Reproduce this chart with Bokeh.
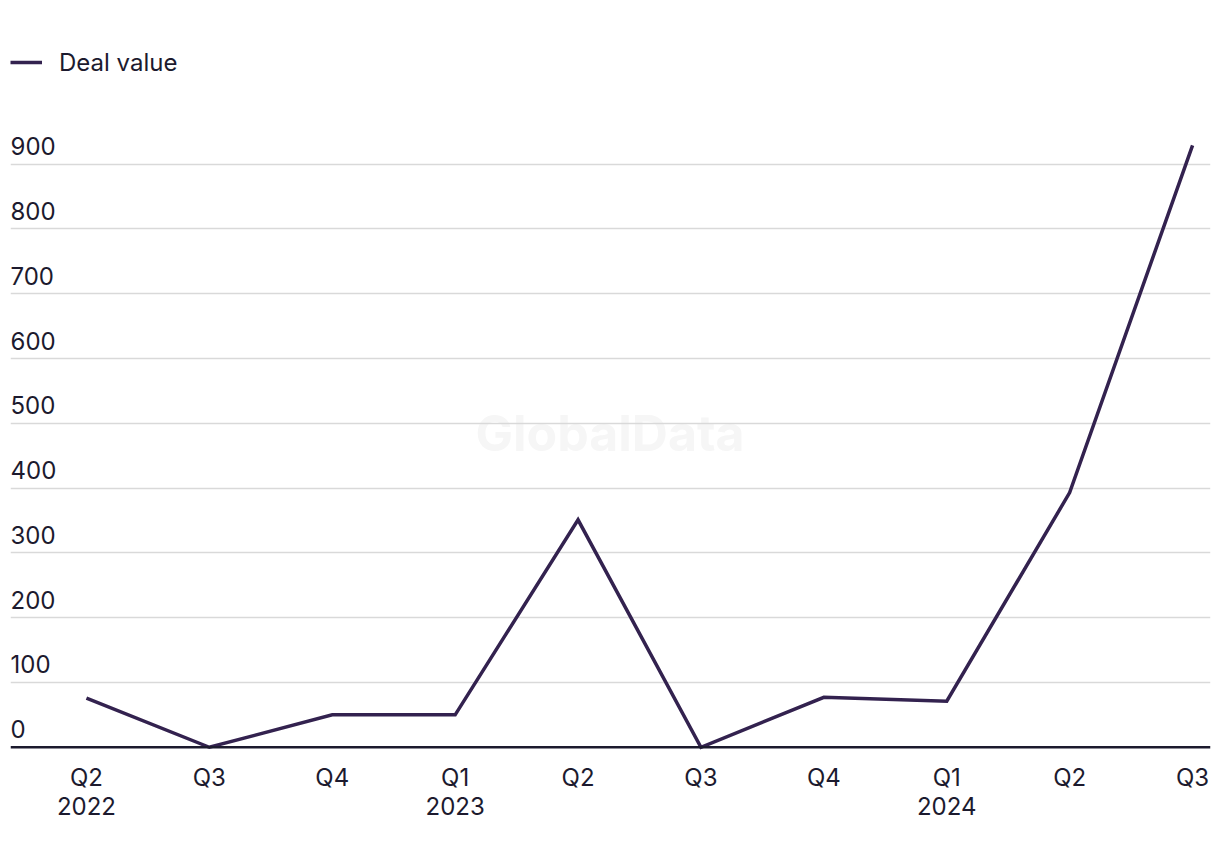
from bokeh.plotting import figure
from bokeh.models import ColumnDataSource, FixedTicker, Span, Legend, LegendItem, Label, LinearAxis
from bokeh.core.properties import value
from bokeh.embed import file_html
from bokeh.resources import INLINE

# ---- data ----
quarters = ["Q2", "Q3", "Q4", "Q1", "Q2", "Q3", "Q4", "Q1", "Q2", "Q3"]
years = ["2022", "", "", "2023", "", "", "", "2024", "", ""]
deal_value = [76, 0, 50, 50, 351, 0, 77, 71, 393, 929]
y_ticks = [0, 100, 200, 300, 400, 500, 600, 700, 800, 900]
series_name = "Deal value"

FONT = "Inter"
TEXT = "#1c1a2e"
LINE = "#33224f"

xs = list(range(len(quarters)))
x0, x1 = -0.618, 9.146
y0, y1 = -5, 1080

p = figure(frame_width=1200, frame_height=703,
           x_range=(x0, x1), y_range=(y0, y1),
           output_backend="svg", toolbar_location=None,
           min_border_left=10, min_border_right=2, min_border_top=47, min_border_bottom=100)
p.outline_line_color = None
p.background_fill_color = "white"
p.border_fill_color = "white"

# grid
p.xgrid.visible = False
p.ygrid.ticker = FixedTicker(ticks=y_ticks[1:])
p.ygrid.grid_line_color = "#d9d9d9"
p.ygrid.grid_line_width = 1.5
p.yaxis.visible = False

def style_axis(ax, labels, standoff):
    ax.ticker = FixedTicker(ticks=xs)
    ax.major_label_overrides = {i: t for i, t in zip(xs, labels)}
    ax.axis_line_color = None
    ax.major_tick_line_color = None
    ax.minor_tick_line_color = None
    ax.major_tick_in = 0
    ax.major_tick_out = 0
    ax.major_label_standoff = standoff
    ax.major_label_text_font = FONT
    ax.major_label_text_font_size = "24px"
    ax.major_label_text_color = TEXT

style_axis(p.xaxis[0], quarters, 12)
year_axis = LinearAxis()
style_axis(year_axis, years, 2)
p.add_layout(year_axis, "below")

# watermark (under the grid)
p.add_layout(Label(x=4.26, y=485, text="GlobalData", text_font=FONT, text_font_size="50px",
                   text_font_style="bold", text_color="#f6f6f6", text_align="center",
                   text_baseline="middle", level="image"))

# baseline
p.add_layout(Span(location=0, dimension="width", line_color=TEXT, line_width=2.5))

# y labels above gridlines
ysrc = ColumnDataSource(dict(x=[x0] * len(y_ticks), y=y_ticks, t=[str(v) for v in y_ticks]))
p.text(x="x", y="y", text="t", source=ysrc, text_font=value(FONT), text_font_size="24px",
       text_color=TEXT, text_baseline="alphabetic", text_align="left", y_offset=-18)

src = ColumnDataSource(dict(x=xs, y=deal_value))
r = p.line(x="x", y="y", source=src, line_color=LINE, line_width=3.5, line_join="miter")

legend = Legend(items=[LegendItem(label=series_name, renderers=[r])], location="top_left",
                border_line_color=None, background_fill_alpha=0, padding=0, margin=0,
                glyph_width=32, glyph_height=30, label_height=30, label_standoff=17,
                label_text_font=FONT, label_text_font_size="24px", label_text_color=TEXT)
p.add_layout(legend)

open("out.html", "w").write(file_html(p, INLINE))
